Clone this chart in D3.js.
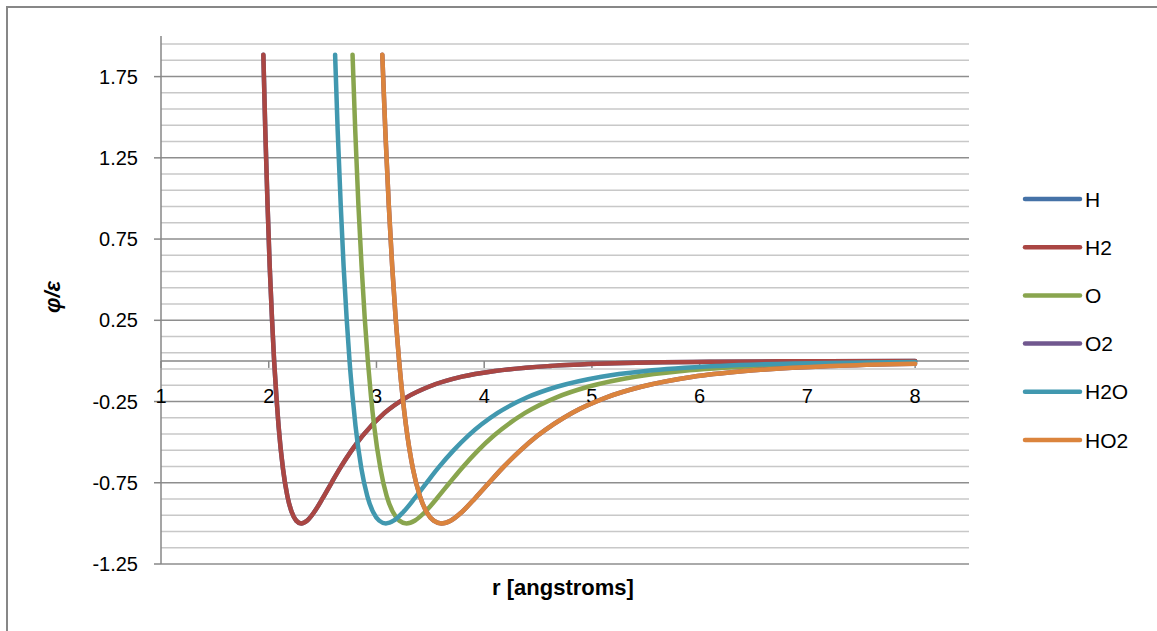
<!DOCTYPE html>
<html>
<head>
<meta charset="utf-8">
<script src="https://cdn.jsdelivr.net/npm/d3@7"></script>
<style>
  html, body { margin: 0; padding: 0; background: #fff; }
  svg { display: block; }
</style>
</head>
<body>
<svg id="chart" width="1157" height="631"></svg>
<script>
// Lennard-Jones reduced potential phi/epsilon against separation r (angstroms)

const seriesNames = ["H", "H2", "O", "O2", "H2O", "HO2"];
const seriesColors = ["#4572a7", "#aa4643", "#89a54e", "#71588f", "#4198af", "#db843d"];

// H2
const rH2 = [1.950, 1.968, 1.989, 2.009, 2.030, 2.050, 2.071, 2.091, 2.132, 2.173, 2.214, 2.255,
  2.301, 2.358, 2.419, 2.501, 2.583, 2.665, 2.768, 2.870, 3.075, 3.280, 3.485, 3.793, 4.100,
  4.613, 5.125, 6.150, 7.175, 8.000];
const phiH2 = [1.885, 1.418, 0.963, 0.582, 0.264, 0.000, -0.218, -0.398, -0.663, -0.832, -0.932, -0.983,
  -1.000, -0.982, -0.933, -0.845, -0.750, -0.657, -0.552, -0.461, -0.320, -0.224, -0.159, -0.097, -0.062,
  -0.031, -0.016, -0.005, -0.002, -0.001];

// O
const rO = [2.778, 2.803, 2.832, 2.862, 2.891, 2.920, 2.949, 2.978, 3.037, 3.095, 3.154, 3.212,
  3.278, 3.358, 3.446, 3.562, 3.679, 3.796, 3.942, 4.088, 4.380, 4.672, 4.964, 5.402, 5.840,
  6.570, 7.300, 8.000];
const phiO = [1.885, 1.418, 0.963, 0.582, 0.264, 0.000, -0.218, -0.398, -0.663, -0.832, -0.932, -0.983,
  -1.000, -0.982, -0.933, -0.845, -0.750, -0.657, -0.552, -0.461, -0.320, -0.224, -0.159, -0.097, -0.062,
  -0.031, -0.016, -0.010];

// H2O
const rH2O = [2.616, 2.640, 2.668, 2.695, 2.723, 2.750, 2.778, 2.805, 2.860, 2.915, 2.970, 3.025,
  3.087, 3.163, 3.245, 3.355, 3.465, 3.575, 3.713, 3.850, 4.125, 4.400, 4.675, 5.088, 5.500,
  6.188, 6.875, 7.563, 8.000];
const phiH2O = [1.885, 1.418, 0.963, 0.582, 0.264, 0.000, -0.218, -0.398, -0.663, -0.832, -0.932, -0.983,
  -1.000, -0.982, -0.933, -0.845, -0.750, -0.657, -0.552, -0.461, -0.320, -0.224, -0.159, -0.097, -0.062,
  -0.031, -0.016, -0.009, -0.007];

// HO2
const rHO2 = [3.054, 3.082, 3.114, 3.146, 3.178, 3.210, 3.242, 3.274, 3.338, 3.403, 3.467, 3.531,
  3.603, 3.692, 3.788, 3.916, 4.045, 4.173, 4.334, 4.494, 4.815, 5.136, 5.457, 5.939, 6.420,
  7.223, 8.000];
const phiHO2 = [1.885, 1.418, 0.963, 0.582, 0.264, 0.000, -0.218, -0.398, -0.663, -0.832, -0.932, -0.983,
  -1.000, -0.982, -0.933, -0.845, -0.750, -0.657, -0.552, -0.461, -0.320, -0.224, -0.159, -0.097, -0.062,
  -0.031, -0.017];

// H and O2 lie exactly under later series
const rH = rH2, phiH = phiH2;
const rO2 = rHO2, phiO2 = phiHO2;

const xTicks = [1, 2, 3, 4, 5, 6, 7, 8];
const yTicks = [-1.25, -0.75, -0.25, 0.25, 0.75, 1.25, 1.75];
const yTickLabels = ["-1.25", "-0.75", "-0.25", "0.25", "0.75", "1.25", "1.75"];

const seriesData = [
  [rH, phiH], [rH2, phiH2], [rO, phiO], [rO2, phiO2], [rH2O, phiH2O], [rHO2, phiHO2]
].map(([rs, ps], i) => ({
  name: seriesNames[i],
  color: seriesColors[i],
  points: rs.map((r, j) => ({ r: r, phi: ps[j] }))
}));

const svg = d3.select("#chart");
const font = "'Liberation Sans', Arial, sans-serif";

const x = d3.scaleLinear().domain([1, 8.5]).range([161, 969]);
const y = d3.scaleLinear().domain([-1.25, 2.0]).range([564, 36]);

// outer frame (top and left edges)
svg.append("path")
  .attr("d", "M7,631 V7 H1157")
  .attr("fill", "none").attr("stroke", "#878787").attr("stroke-width", 2);

// minor and major horizontal gridlines
const gridVals = d3.range(0, 33).map(k => ({ v: -1.25 + k * 0.1, major: k % 5 === 0 }));
const grid = svg.append("g");
grid.selectAll("line.minor").data(gridVals.filter(d => !d.major)).join("line")
  .attr("x1", x(1)).attr("x2", x(8.5))
  .attr("y1", d => y(d.v)).attr("y2", d => y(d.v))
  .attr("stroke", "#c8c8c8").attr("stroke-width", 1.5);
grid.selectAll("line.major").data(gridVals.filter(d => d.major)).join("line")
  .attr("x1", x(1)).attr("x2", x(8.5))
  .attr("y1", d => y(d.v)).attr("y2", d => y(d.v))
  .attr("stroke", "#8e8e8e").attr("stroke-width", 1.5);

// y axis
const yAxis = svg.append("g");
yAxis.append("line")
  .attr("x1", x(1)).attr("x2", x(1)).attr("y1", y(2.0)).attr("y2", y(-1.25))
  .attr("stroke", "#878787").attr("stroke-width", 1.5);
yAxis.selectAll("line.tick").data(yTicks).join("line")
  .attr("x1", x(1) - 7).attr("x2", x(1))
  .attr("y1", d => y(d)).attr("y2", d => y(d))
  .attr("stroke", "#878787").attr("stroke-width", 1.5);
yAxis.selectAll("text").data(yTicks).join("text")
  .attr("x", 138).attr("y", d => y(d))
  .attr("text-anchor", "end").attr("dominant-baseline", "central")
  .attr("font-family", font).attr("font-size", 20).attr("fill", "#000")
  .text((d, i) => yTickLabels[i]);

// x axis crossing at phi = 0
const xAxis = svg.append("g");
xAxis.append("line")
  .attr("x1", x(1)).attr("x2", x(8.5)).attr("y1", y(0)).attr("y2", y(0))
  .attr("stroke", "#878787").attr("stroke-width", 1.5);
xAxis.selectAll("line.tick").data(xTicks).join("line")
  .attr("x1", d => x(d)).attr("x2", d => x(d))
  .attr("y1", y(0)).attr("y2", y(0) + 7)
  .attr("stroke", "#878787").attr("stroke-width", 1.5);
xAxis.selectAll("text").data(xTicks).join("text")
  .attr("x", d => x(d)).attr("y", y(0) + 35)
  .attr("text-anchor", "middle").attr("dominant-baseline", "central")
  .attr("font-family", font).attr("font-size", 20).attr("fill", "#000")
  .text(d => d);

// series lines
const line = d3.line()
  .x(d => x(d.r)).y(d => y(d.phi))
  .curve(d3.curveMonotoneX);
svg.append("g").selectAll("path").data(seriesData).join("path")
  .attr("d", d => line(d.points))
  .attr("fill", "none")
  .attr("stroke", d => d.color)
  .attr("stroke-width", 4.5)
  .attr("stroke-linecap", "round")
  .attr("stroke-linejoin", "round");

// axis titles
svg.append("text")
  .attr("x", 563).attr("y", 595)
  .attr("text-anchor", "middle")
  .attr("font-family", font).attr("font-size", 22).attr("font-weight", "bold")
  .text("r [angstroms]");
svg.append("text")
  .attr("transform", "translate(60,297) rotate(-90)")
  .attr("text-anchor", "middle")
  .attr("font-family", font).attr("font-size", 22).attr("font-weight", "bold")
  .attr("font-style", "italic")
  .text("φ/ε");

// legend
const legend = svg.append("g");
const legendRows = legend.selectAll("g").data(seriesData).join("g")
  .attr("transform", (d, i) => `translate(1025,${199 + i * 48.2})`);
legendRows.append("line")
  .attr("x1", 0).attr("x2", 55).attr("y1", 0).attr("y2", 0)
  .attr("stroke", d => d.color).attr("stroke-width", 4.5).attr("stroke-linecap", "round");
legendRows.append("text")
  .attr("x", 60).attr("y", 0).attr("dominant-baseline", "central")
  .attr("font-family", font).attr("font-size", 21).attr("fill", "#000")
  .text(d => d.name);
</script>
</body>
</html>
